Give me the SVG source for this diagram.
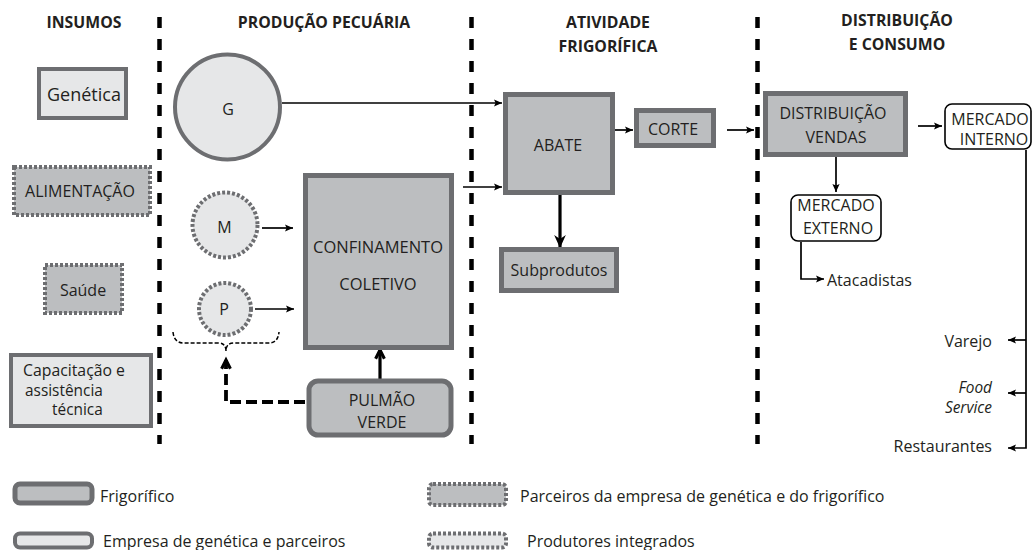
<svg xmlns="http://www.w3.org/2000/svg" width="1033" height="550" viewBox="0 0 1033 550">
<style>
text{font-family:"Open Sans","Noto Sans",sans-serif;font-size:16px;fill:#231f20}
.h{font-weight:bold;font-size:15.8px;text-anchor:middle}
.c{text-anchor:middle}
.e{text-anchor:end}
.it{font-style:italic}
.sm{font-size:15.4px}
.dark{fill:#bcbec0;stroke:#6d6e71;stroke-width:5}
.light{fill:#e6e7e8;stroke:#6d6e71;stroke-width:4}
.dotd{fill:#bcbec0;stroke:#6d6e71;stroke-width:4;stroke-dasharray:3 2}
.dotl{fill:#e6e7e8;stroke:#6d6e71;stroke-width:4;stroke-dasharray:3 2}
.mk{fill:#fff;stroke:#000;stroke-width:1.6}
.div{stroke:#000;stroke-width:4.5;stroke-dasharray:11 11;fill:none}
.ln{stroke:#000;stroke-width:1.7;fill:none}
.thick{stroke:#000;stroke-width:3.2;fill:none}
</style>
<defs>
<marker id="arr" viewBox="0 0 10 10" refX="10" refY="5" markerWidth="9" markerHeight="8" markerUnits="userSpaceOnUse" orient="auto"><path d="M0,0.5 L10,5 L0,9.5 L2,5 z" fill="#000"/></marker>
<marker id="arrBig" viewBox="0 0 10 10" refX="10" refY="5" markerWidth="14" markerHeight="13" markerUnits="userSpaceOnUse" orient="auto"><path d="M0,0.5 L10,5 L0,9.5 L3,5 z" fill="#000"/></marker>
<marker id="chev" viewBox="0 0 10 10" refX="9" refY="5" markerWidth="11" markerHeight="13" markerUnits="userSpaceOnUse" orient="auto" overflow="visible"><path d="M1,1 L9,5 L1,9" fill="none" stroke="#000" stroke-width="2.8"/></marker>
</defs>

<g id="headers">
<text class="h" x="84" y="28">INSUMOS</text>
<text class="h" x="324" y="28">PRODUÇÃO PECUÁRIA</text>
<text class="h" x="608" y="28">ATIVIDADE</text>
<text class="h" x="608" y="52">FRIGORÍFICA</text>
<text class="h" x="897" y="26">DISTRIBUIÇÃO</text>
<text class="h" x="897" y="50">E CONSUMO</text>
</g>

<g id="dividers">
<line class="div" x1="159.5" y1="17" x2="159.5" y2="444"/>
<line class="div" x1="471.5" y1="17" x2="471.5" y2="444"/>
<line class="div" x1="757.5" y1="17" x2="757.5" y2="444"/>
</g>

<g id="connectors">
<line class="ln" x1="282" y1="103" x2="502" y2="103" marker-end="url(#arr)"/>
<line class="ln" x1="463" y1="187" x2="502" y2="187" marker-end="url(#arr)"/>
<line class="ln" x1="615" y1="130" x2="633" y2="130" marker-end="url(#arr)"/>
<line class="ln" x1="727" y1="130" x2="754" y2="130" marker-end="url(#arr)"/>
<line class="thick" x1="560" y1="195" x2="560" y2="248" marker-end="url(#arrBig)"/>
<line class="ln" x1="262" y1="228" x2="293" y2="228" marker-end="url(#arr)"/>
<line class="ln" x1="255" y1="309" x2="294" y2="309" marker-end="url(#arr)"/>
<line class="thick" x1="380" y1="379" x2="380" y2="350" marker-end="url(#chev)"/>
<path d="M305,402 H226 V360" fill="none" stroke="#000" stroke-width="3.8" stroke-dasharray="11 5" marker-end="url(#chev)"/>
<path d="M173,332 Q174,343 184,343 H218 Q226,343 226,351 Q226,343 234,343 H269 Q278,343 279,332" fill="none" stroke="#000" stroke-width="1.5" stroke-dasharray="4 2"/>
<line class="ln" x1="836" y1="157" x2="836" y2="192" marker-end="url(#arr)"/>
<line class="ln" x1="918" y1="126" x2="942" y2="126" marker-end="url(#arr)"/>
<path class="ln" d="M801,242 V279 H824" marker-end="url(#arr)"/>
<path class="ln" d="M1026,150 V448 H1008" marker-end="url(#arr)"/>
<line class="ln" x1="1026" y1="340" x2="1008" y2="340" marker-end="url(#arr)"/>
<line class="ln" x1="1026" y1="393" x2="1008" y2="393" marker-end="url(#arr)"/>
</g>

<g id="genetica"><rect class="light" x="39" y="69" width="87" height="49"/><text class="c" x="84" y="101" style="font-size:18px">Genética</text></g>
<g id="alimentacao"><rect class="dotd" x="14" y="167" width="136" height="48"/><text class="c" x="80" y="197">ALIMENTAÇÃO</text></g>
<g id="saude"><rect class="dotd" x="45" y="265" width="77" height="48"/><text class="c" x="83" y="296">Saúde</text></g>
<g id="capacitacao"><rect class="light" x="11" y="355" width="140" height="71"/>
<text class="sm" x="23" y="376" style="font-size:15.8px">Capacitação e</text><text class="sm" x="25" y="395.5">assistência</text><text class="sm" x="52" y="415">técnica</text></g>

<g id="g"><circle class="light" cx="227.5" cy="107" r="52.5"/><text class="c" x="228" y="115">G</text></g>
<g id="m"><circle cx="225" cy="225" r="32.5" fill="#e6e7e8" stroke="#6d6e71" stroke-width="4" stroke-dasharray="3 2"/><text class="c" x="224.5" y="233">M</text></g>
<g id="p"><circle cx="225" cy="309" r="26" fill="#e6e7e8" stroke="#6d6e71" stroke-width="4" stroke-dasharray="3 2"/><text class="c" x="224" y="315">P</text></g>
<g id="confinamento"><rect class="dark" x="305.5" y="175.5" width="146" height="172"/><text class="c" x="378" y="253" style="font-size:16.5px">CONFINAMENTO</text><text class="c" x="378" y="290" style="font-size:16.5px">COLETIVO</text></g>
<g id="pulmao"><rect class="dark" x="309" y="381" width="142" height="54" rx="9" stroke-width="4.5"/><text class="c" x="382" y="406">PULMÃO</text><text class="c" x="382" y="428">VERDE</text></g>

<g id="abate"><rect class="dark" x="505.5" y="94.5" width="107" height="98"/><text class="c" x="558" y="151">ABATE</text></g>
<g id="corte"><rect class="dark" x="636.5" y="110.5" width="77" height="35"/><text class="c" x="673" y="135">CORTE</text></g>
<g id="subprodutos"><rect class="dark" x="501.5" y="249.5" width="115" height="41"/><text class="c" x="559" y="276">Subprodutos</text></g>

<g id="distribuicao"><rect class="dark" x="765.5" y="93.5" width="140" height="61"/><text class="c" x="833" y="119">DISTRIBUIÇÃO</text><text class="c" x="836" y="143">VENDAS</text></g>
<g id="mercado-interno"><rect class="mk" x="945" y="104" width="86" height="45" rx="7"/><text class="c" x="990" y="125">MERCADO</text><text class="c" x="994" y="145">INTERNO</text></g>
<g id="mercado-externo"><rect class="mk" x="791" y="195" width="90" height="46" rx="7"/><text class="c" x="836" y="211">MERCADO</text><text class="c" x="838" y="234">EXTERNO</text></g>
<g id="atacadistas"><text x="827" y="286">Atacadistas</text></g>
<g id="varejo"><text class="e" x="992" y="347">Varejo</text></g>
<g id="food-service"><text class="e it sm" x="992" y="393">Food</text><text class="e it sm" x="992" y="413">Service</text></g>
<g id="restaurantes"><text class="e" x="992" y="452">Restaurantes</text></g>

<g id="legend">
<rect class="dark" x="15" y="484" width="77" height="19" rx="5" stroke-width="4.5"/>
<text x="100" y="502">Frigorífico</text>
<rect class="light" x="15" y="533.5" width="77" height="14" rx="5" stroke-width="4.5"/>
<text x="103" y="547">Empresa de genética e parceiros</text>
<rect class="dotd" x="429" y="484" width="77" height="21" rx="4"/>
<text x="520" y="502">Parceiros da empresa de genética e do frigorífico</text>
<rect class="dotl" x="429" y="533.5" width="77" height="14" rx="4"/>
<text x="527" y="547">Produtores integrados</text>
</g>
</svg>
